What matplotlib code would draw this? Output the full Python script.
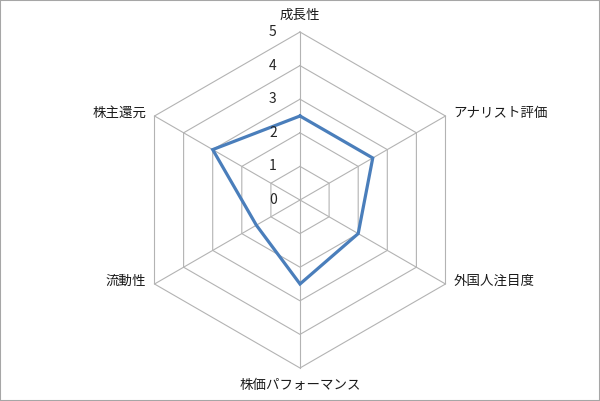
import numpy as np
import matplotlib.pyplot as plt
from matplotlib.patches import Rectangle

plt.rcParams['font.family'] = ['Noto Sans CJK JP', 'DejaVu Sans']

categories = ['成長性', 'アナリスト評価', '外国人注目度', '株価パフォーマンス', '流動性', '株主還元']
values = [2.5, 2.5, 2.0, 2.5, 1.5, 3.0]
rings = [0, 1, 2, 3, 4, 5]

n = len(categories)
ang = np.pi / 2 - np.arange(n) * 2 * np.pi / n
rmax = rings[-1]

# pixel scale: 5 units = ~168 px, center of plot at (300, 200)
s = 33.6
fig = plt.figure(figsize=(6.0, 4.01), dpi=100)
ax = fig.add_axes([0, 0, 1, 1])
ax.set_xlim(-300 / s, 300 / s)
ax.set_ylim(-201 / s, 200 / s)
ax.axis('off')

grid_c = '#b3b3b3'
# hexagon rings
for r in rings[1:]:
    xs = np.append(r * np.cos(ang), r * np.cos(ang[0]))
    ys = np.append(r * np.sin(ang), r * np.sin(ang[0]))
    ax.plot(xs, ys, color=grid_c, lw=0.8, zorder=1)
# spokes
for a in ang:
    ax.plot([0, rmax * np.cos(a)], [0, rmax * np.sin(a)], color=grid_c, lw=0.8, zorder=1)

# data polygon
v = np.array(values)
xs = np.append(v * np.cos(ang), v[0] * np.cos(ang[0]))
ys = np.append(v * np.sin(ang), v[0] * np.sin(ang[0]))
ax.plot(xs, ys, color='#4a7ebb', lw=2.3, solid_joinstyle='miter', zorder=3)

# radial tick labels
for r in rings:
    ax.annotate(str(r), (0, r), xytext=(-19.5, 0), textcoords='offset points',
                ha='center', va='center', fontsize=10, color='#262626')

# category labels
for name, a in zip(categories, ang):
    cx, cy = rmax * np.cos(a), rmax * np.sin(a)
    if abs(np.cos(a)) < 1e-6:
        off = (0, 12.2 if np.sin(a) > 0 else -12.2)
        ha = 'center'
    elif np.cos(a) > 0:
        off = (5.8, 2.2)
        ha = 'left'
    else:
        off = (-5.8, 2.2)
        ha = 'right'
    ax.annotate(name, (cx, cy), xytext=off, textcoords='offset points',
                ha=ha, va='center', fontsize=9.7, color='#1a1a1a')

fig.patches.append(Rectangle((0, 0), 1, 1, transform=fig.transFigure, fill=False,
                             edgecolor='#a6a6a6', lw=1.5))

fig.savefig('out.png', dpi=100)
